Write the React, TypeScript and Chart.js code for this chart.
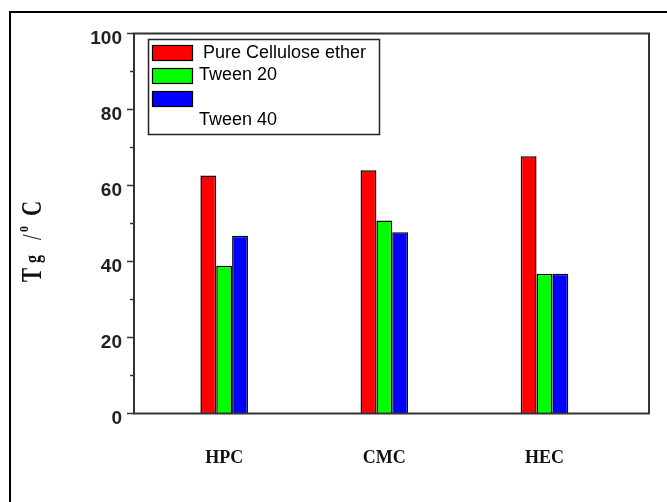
import React, { useEffect, useRef } from 'react';
import { Chart, registerables } from 'chart.js';

Chart.register(...registerables);

const categories = ['HPC', 'CMC', 'HEC'];
const seriesLabels = ['Pure Cellulose ether', 'Tween 20', 'Tween 40'];
const pureCellulose = [62.6, 64.0, 67.7];
const tween20 = [38.9, 50.8, 36.8];
const tween40 = [46.8, 47.7, 36.8];
const seriesValues = [pureCellulose, tween20, tween40];
const seriesColors = ['#ff0000', '#00ff00', '#0000ff'];
const yMajorTicks = [0, 20, 40, 60, 80, 100];
const yMinorTicks = [10, 30, 50, 70, 90];

const SERIF = '"Liberation Serif", "Times New Roman", serif';
const SANS = '"Liberation Sans", Arial, sans-serif';

const decorPlugin = {
  id: 'decor',
  afterDraw(chart: any) {
    const { ctx, chartArea } = chart;
    const { left, right, top, bottom } = chartArea;
    const y = chart.scales.y;
    ctx.save();
    // plot frame
    ctx.strokeStyle = '#333';
    ctx.lineWidth = 2;
    ctx.strokeRect(left, top, right - left, bottom - top);
    // minor ticks
    ctx.lineWidth = 1.5;
    yMinorTicks.forEach((v) => {
      const py = y.getPixelForValue(v);
      ctx.beginPath();
      ctx.moveTo(left - 4, py);
      ctx.lineTo(left, py);
      ctx.stroke();
    });
    // legend
    ctx.fillStyle = '#fff';
    ctx.fillRect(148.5, 39.5, 231, 95);
    ctx.strokeStyle = '#222';
    ctx.lineWidth = 1.5;
    ctx.strokeRect(148.5, 39.5, 231, 95);
    const swatchTops = [45, 68, 91];
    const textX = [203, 199, 199];
    const textBase = [58, 80, 125];
    ctx.font = `18px ${SANS}`;
    ctx.textAlign = 'left';
    ctx.textBaseline = 'alphabetic';
    chart.data.datasets.forEach((ds: any, i: number) => {
      ctx.fillStyle = ds.backgroundColor;
      ctx.fillRect(152, swatchTops[i], 41, 16);
      ctx.strokeStyle = '#000';
      ctx.lineWidth = 1.2;
      ctx.strokeRect(152.5, swatchTops[i] + 0.5, 40, 15);
      ctx.fillStyle = '#000';
      ctx.fillText(ds.label, textX[i], textBase[i]);
    });
    // y axis title "Tg /oC"
    ctx.save();
    ctx.translate(41, 282);
    ctx.rotate(-Math.PI / 2);
    ctx.scale(1, 1.4);
    ctx.fillStyle = '#111';
    ctx.textBaseline = 'alphabetic';
    const parts: [number, string, string, number][] = [
      [0, 'T', `bold 21px ${SERIF}`, 0],
      [19, 'g', `bold 16px ${SERIF}`, -1],
      [42, '/', `20px ${SERIF}`, 0],
      [50, 'o', `bold 12px ${SERIF}`, -9.3],
      [66, 'C', `bold 21px ${SERIF}`, 0],
    ];
    parts.forEach(([px, t, f, off]) => {
      ctx.font = f;
      ctx.fillText(t, px, off);
    });
    ctx.restore();
    ctx.restore();
  },
};

export default function App() {
  const ref = useRef<HTMLCanvasElement | null>(null);
  useEffect(() => {
    if (!ref.current) return;
    const chart = new Chart(ref.current, {
      type: 'bar',
      data: {
        datasets: seriesLabels.map((label, s) => ({
          label,
          data: seriesValues[s].map((v, i) => ({ x: i + 1, y: v })),
          backgroundColor: seriesColors[s],
          borderColor: '#000',
          borderWidth: 1.5,
          categoryPercentage: 0.297,
          barPercentage: 1,
        })),
      },
      options: {
        animation: false,
        responsive: false,
        devicePixelRatio: 1,
        layout: { padding: { top: 33.5, right: 18, left: 0, bottom: 0 } },
        plugins: { legend: { display: false }, tooltip: { enabled: false } },
        scales: {
          x: {
            type: 'linear',
            min: 0.437,
            max: 3.6525,
            offset: false,
            afterBuildTicks: (s: any) => {
              s.ticks = categories.map((_, i) => ({ value: i + 1 }));
            },
            afterFit: (s: any) => {
              s.height = 88.5;
            },
            ticks: {
              autoSkip: false,
              maxRotation: 0,
              padding: 26,
              color: '#111',
              font: { family: SERIF, size: 18, weight: 'bold' },
              callback: (v: any) => categories[Math.round(Number(v)) - 1] ?? '',
            },
            grid: { display: false },
            border: { display: false },
          },
          y: {
            min: 0,
            max: 100,
            afterBuildTicks: (s: any) => {
              s.ticks = yMajorTicks.map((v) => ({ value: v }));
            },
            afterFit: (s: any) => {
              s.width = 134;
            },
            ticks: {
              padding: 5,
              labelOffset: 5,
              color: '#222',
              font: { family: SANS, size: 19, weight: 'bold' },
            },
            grid: {
              drawOnChartArea: false,
              drawTicks: true,
              tickLength: 7,
              tickColor: '#333',
              tickWidth: 1.5,
            },
            border: { display: false },
          },
        },
      },
      plugins: [decorPlugin],
    } as any);
    return () => chart.destroy();
  }, []);

  return (
    <div
      style={{
        position: 'absolute',
        left: 0,
        top: 0,
        width: 667,
        height: 502,
        overflow: 'hidden',
        background: '#fff',
      }}
    >
      <div
        style={{
          position: 'absolute',
          left: 9,
          top: 11,
          width: 720,
          height: 600,
          border: '2px solid #000',
        }}
      />
      <canvas
        ref={ref}
        width={667}
        height={502}
        style={{ position: 'absolute', left: 0, top: 0, width: 667, height: 502 }}
      />
    </div>
  );
}
